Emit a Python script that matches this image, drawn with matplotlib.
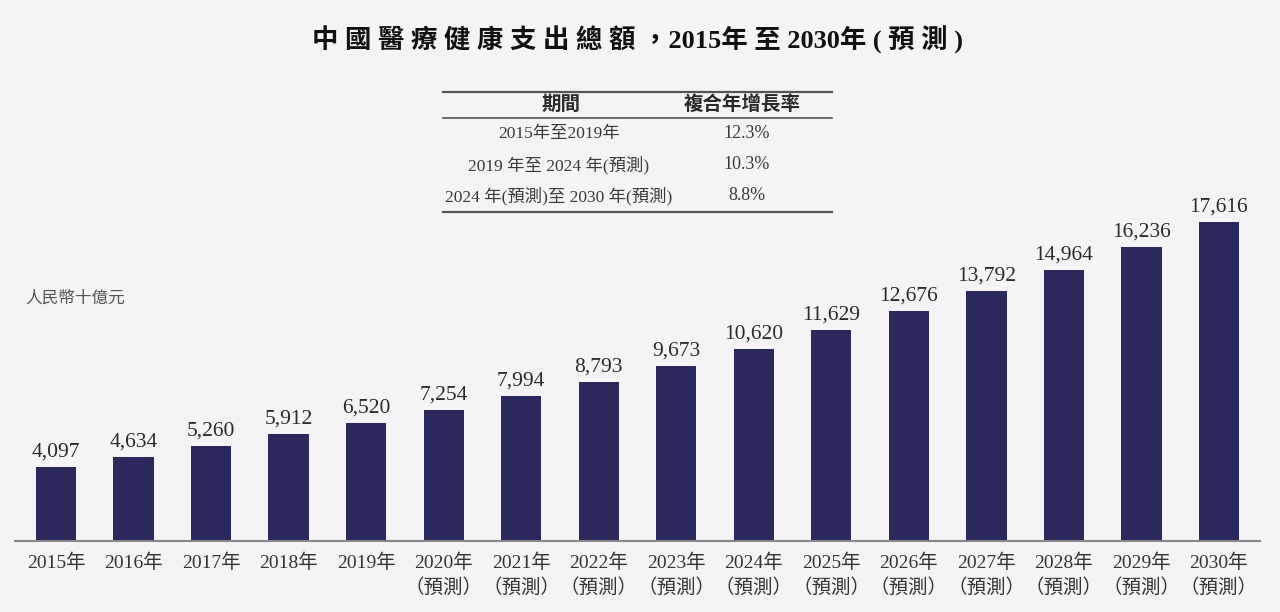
import matplotlib
matplotlib.use("Agg")
import matplotlib.pyplot as plt
from matplotlib.lines import Line2D

plt.rcParams['font.family'] = ['Liberation Serif', 'Noto Sans CJK TC', 'DejaVu Sans']

years = ["2015年", "2016年", "2017年", "2018年", "2019年", "2020年", "2021年", "2022年",
         "2023年", "2024年", "2025年", "2026年", "2027年", "2028年", "2029年", "2030年"]
forecast = [False] * 5 + [True] * 11
values = [4097, 4634, 5260, 5912, 6520, 7254, 7994, 8793,
          9673, 10620, 11629, 12676, 13792, 14964, 16236, 17616]

title = "中 國 醫 療 健 康 支 出 總 額 ，2015年 至 2030年 ( 預 測 )"
unit_label = "人民幣十億元"
table_header = ["期間", "複合年增長率"]
table_periods = ["2015年至2019年", "2019 年至 2024 年(預測)", "2024 年(預測)至 2030 年(預測)"]
table_cagr = ["12.3%", "10.3%", "8.8%"]

bg = "#f4f4f6"
bar_color = "#2b285e"
text_color = "#2a2a2a"

fig = plt.figure(figsize=(12.8, 6.12), dpi=100, facecolor=bg)
W, H = 1280, 612

base_px = 541
top_px = 60
ax = fig.add_axes([15 / W, (H - base_px) / H, (1260 - 15) / W, (base_px - top_px) / H])
ax.set_facecolor(bg)
x = list(range(len(values)))
ax.bar(x, values, width=0.52, color=bar_color)
ymax = 17616 * (base_px - top_px) / (541 - 222)
ax.set_ylim(0, ymax)
ax.set_xlim(-0.53, len(values) - 0.47)
for xi, v in zip(x, values):
    ax.annotate(f"{v:,}", (xi, v), xytext=(0, 4), textcoords="offset points",
                ha="center", va="bottom", fontsize=15.5, color=text_color)
ax.set_xticks(x)
ax.set_xticklabels([y + ("\n（預測）" if f else "") for y, f in zip(years, forecast)],
                   fontsize=14, color="#333333", linespacing=1.45, va="top")
ax.tick_params(axis="x", length=0, pad=9)
ax.set_yticks([])
for s in ["top", "right", "left"]:
    ax.spines[s].set_visible(False)
ax.spines["bottom"].set_color("#888888")
ax.spines["bottom"].set_linewidth(1.5)

fig.text(638 / W, 1 - 40 / H, title, ha="center", va="center", fontsize=19,
         fontweight="bold", color="#111111")
fig.text(25 / W, 1 - 299 / H, unit_label, ha="left", va="center", fontsize=12,
         color="#555555")

# table
tx0, tx1 = 443 / W, 832 / W
for ypx, lw in [(92, 1.6), (118, 1.2), (212, 1.6)]:
    fig.add_artist(Line2D([tx0, tx1], [1 - ypx / H, 1 - ypx / H], color="#555555", lw=lw))
fig.text(561 / W, 1 - 105 / H, table_header[0], ha="center", va="center",
         fontsize=14, fontweight="bold", color=text_color)
fig.text(742 / W, 1 - 105 / H, table_header[1], ha="center", va="center",
         fontsize=14, fontweight="bold", color=text_color)
for i, (p, c) in enumerate(zip(table_periods, table_cagr)):
    ypx = 134 + i * 31
    fig.text(559 / W, 1 - ypx / H, p, ha="center", va="center", fontsize=12.5, color="#3a3a3a")
    fig.text(747 / W, 1 - ypx / H, c, ha="center", va="center", fontsize=13, color="#3a3a3a")

fig.savefig("out.png", dpi=100, facecolor=bg)
